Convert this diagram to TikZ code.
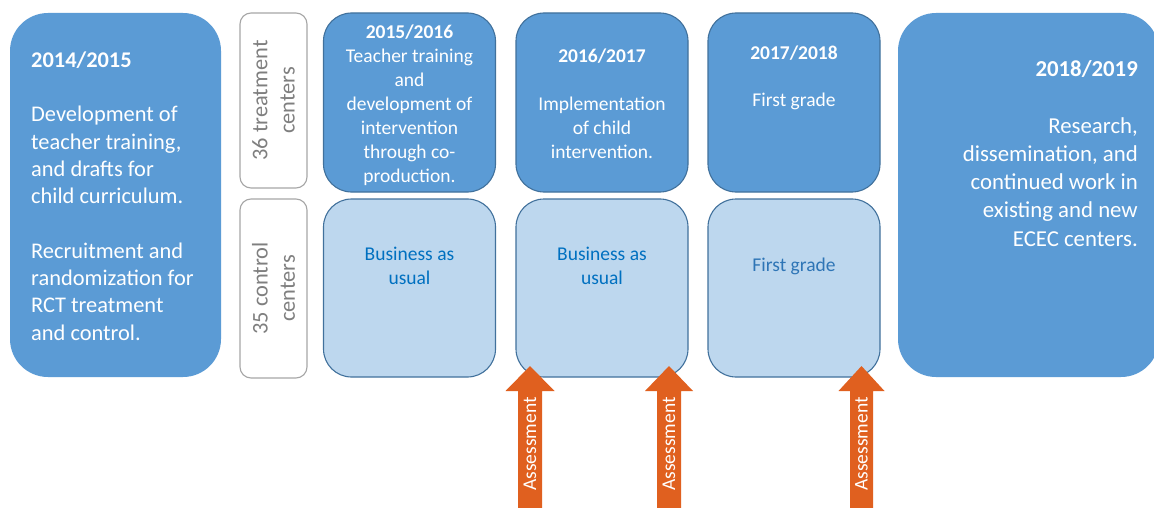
\documentclass[tikz,border=0pt]{standalone}
\usepackage{fontspec}
\setmainfont{Carlito}
\definecolor{mainblue}{HTML}{5B9BD5}
\definecolor{lightblue}{HTML}{BDD7EE}
\definecolor{edgeblue}{HTML}{41719C}
\definecolor{txtblue}{HTML}{0070C0}
\definecolor{txtbluetwo}{HTML}{2E75B6}
\definecolor{orng}{HTML}{E0601F}
\definecolor{gbord}{HTML}{A6A6A6}
\definecolor{gtxt}{HTML}{7F7F7F}
\newcommand\fsBig{\fontsize{22.4}{27.3}\selectfont}
\newcommand\fsRight{\fontsize{22.8}{28.2}\selectfont}
\newcommand\fsCol{\fontsize{19.5}{24.0}\selectfont}
\begin{document}
\begin{tikzpicture}[x=1pt,y=-1pt,
  bigbox/.style={draw=none, fill=mainblue, rounded corners=38pt, inner sep=0pt},
  topbox/.style={draw=edgeblue, line width=1.1pt, fill=mainblue, rounded corners=28pt, inner sep=0pt, minimum width=172pt, minimum height=179pt},
  botbox/.style={draw=edgeblue, line width=1.1pt, fill=lightblue, rounded corners=28pt, inner sep=0pt, minimum width=172pt, minimum height=178pt},
  lblbox/.style={draw=gbord, line width=1.1pt, fill=white, rounded corners=11pt, inner sep=0pt, minimum width=67pt},
  wtxt/.style={text=white, inner sep=0pt},
  coltxt/.style={text=white, inner sep=0pt, align=center, font=\fsCol},
  ctltxt/.style={text=txtblue, inner sep=0pt, align=center, font=\fsCol},
  lbltxt/.style={text=gtxt, inner sep=0pt, align=center, font=\fsBig, rotate=90},
  arrowbody/.style={fill=orng, draw=none},
  arrowtxt/.style={text=white, inner sep=0pt, font=\fsCol, rotate=90}
]
\useasboundingbox (0,0) rectangle (1154,508);
\fill[white] (0,0) rectangle (1154,508);

% big side boxes
\node[bigbox, minimum width=211pt, minimum height=364pt] (left) at (115.5,195) {};
\node[bigbox, minimum width=261pt, minimum height=364pt] (right) at (1028.5,195) {};

% label boxes
\node[lblbox, minimum height=175pt] (lbltop) at (273.5,100.5) {};
\node[lblbox, minimum height=179pt] (lblbot) at (273.5,288.5) {};

% column boxes
\node[topbox] (t1) at (409.5,102.5) {};
\node[topbox] (t2) at (602,102.5) {};
\node[topbox] (t3) at (794,102.5) {};
\node[botbox] (b1) at (409.5,288) {};
\node[botbox] (b2) at (602,288) {};
\node[botbox] (b3) at (794,288) {};

% texts
\node[wtxt, anchor=west, align=left, font=\fsBig] (lefttxt) at (31,196)
  {\textbf{2014/2015}\\[27.3pt]Development of\\teacher training,\\and drafts for\\child curriculum.\\[27.3pt]Recruitment and\\randomization for\\RCT treatment\\and control.};
\node[wtxt, anchor=east, align=right, font=\fsRight] (righttxt) at (1138,153.5)
  {\textbf{2018/2019}\\[28.2pt]Research,\\dissemination, and\\continued work in\\existing and new\\ECEC centers.};

\node[lbltxt] (lbltoptxt) at (lbltop) {36 treatment\\centers};
\node[lbltxt] (lblbottxt) at (lblbot) {35 control\\centers};

\node[coltxt] (t1txt) at (409.5,105) {\textbf{2015/2016}\\Teacher training\\and\\development of\\intervention\\through co-\\production.};
\node[coltxt] (t2txt) at (602,104) {\textbf{2016/2017}\\[24pt]Implementation\\of child\\intervention.};
\node[coltxt] (t3txt) at (794,77.5) {\textbf{2017/2018}\\[23pt]First grade};

\node[ctltxt] (b1txt) at (409.5,266) {Business as\\usual};
\node[ctltxt] (b2txt) at (602,266) {Business as\\usual};
\node[ctltxt, text=txtbluetwo] (b3txt) at (794,266) {First grade};

% assessment arrows
\foreach \cx/\sw/\hw/\nm in {530/12/24.5/a1, 669/12/24/a2, 861.5/11.5/23/a3}{
  \fill[arrowbody] (\cx-\sw,510) -- (\cx-\sw,391) -- (\cx-\hw,391) -- (\cx,366)
     -- (\cx+\hw,391) -- (\cx+\sw,391) -- (\cx+\sw,510) -- cycle;
  \node[arrowtxt] (\nm) at (\cx,444) {Assessment};
}
\end{tikzpicture}
\end{document}
